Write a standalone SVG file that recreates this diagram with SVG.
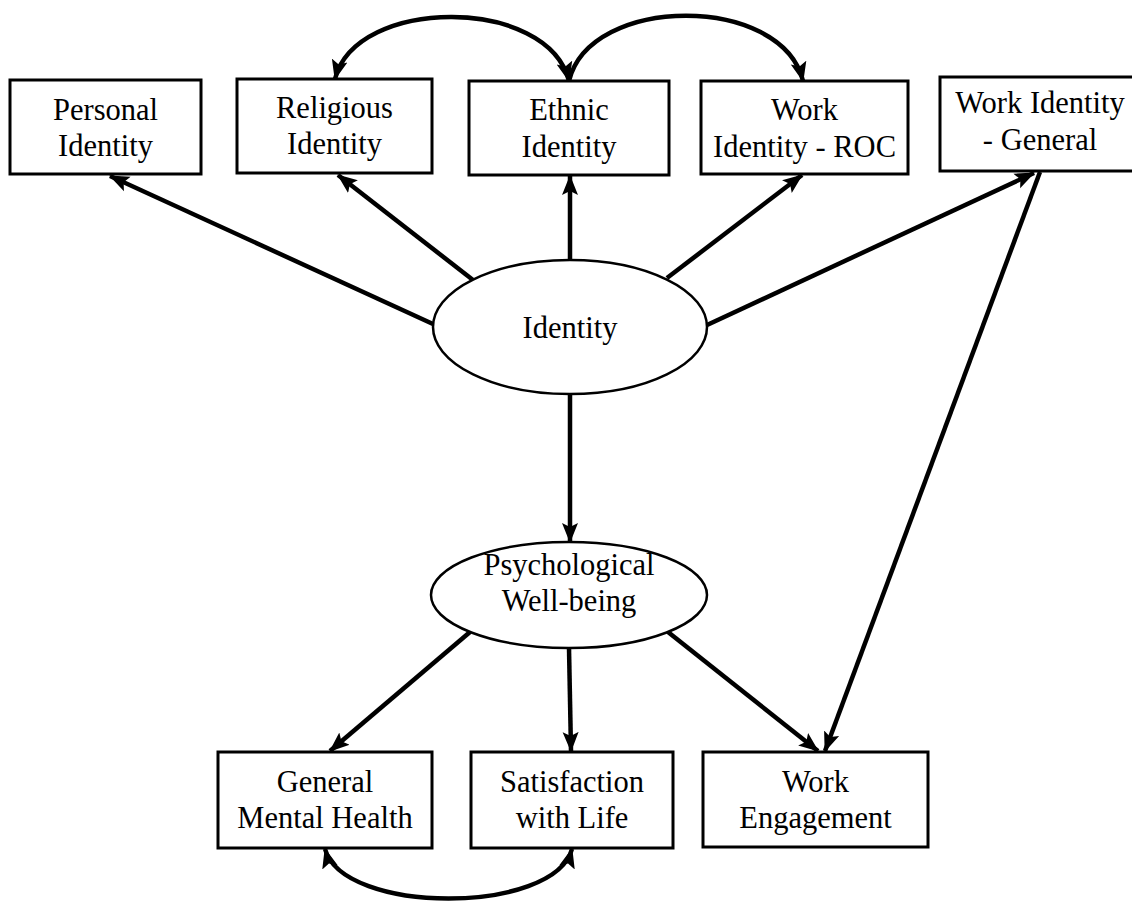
<svg xmlns="http://www.w3.org/2000/svg" width="1132" height="902" viewBox="0 0 1132 902">
<style>
.box{fill:#fff;stroke:#000;stroke-width:3}
.ell{fill:#fff;stroke:#000;stroke-width:2.5}
.t{font-family:"Liberation Serif","Times New Roman",serif;font-size:30.5px;fill:#000;text-anchor:middle}
.c{fill:none;stroke:#000;stroke-width:4.5}
</style>
<defs>
<marker id="ah" markerUnits="userSpaceOnUse" markerWidth="20" markerHeight="18" refX="19" refY="8" orient="auto-start-reverse" viewBox="0 0 20 16">
<path d="M0,0 L20,8 L0,16 L4,8 z" fill="#000"/>
</marker>
</defs>
<rect width="1132" height="902" fill="#fff"/>
<g id="connectors">
<path class="c" d="M335,79 C356,-4 548,-4 569,81" marker-start="url(#ah)" marker-end="url(#ah)"/>
<path class="c" d="M569,81 C590,-6 782,-6 803,81" marker-end="url(#ah)"/>
<path class="c" d="M325,849 C343,915 554,915 572,849" marker-start="url(#ah)" marker-end="url(#ah)"/>
<line class="c" x1="433" y1="324" x2="110" y2="176" marker-end="url(#ah)"/>
<line class="c" x1="473" y1="280" x2="338" y2="175" marker-end="url(#ah)"/>
<line class="c" x1="570" y1="260" x2="570" y2="176" marker-end="url(#ah)"/>
<line class="c" x1="667" y1="278" x2="802" y2="175" marker-end="url(#ah)"/>
<line class="c" x1="707" y1="325" x2="1034" y2="173" marker-end="url(#ah)"/>
<line class="c" x1="1040" y1="172" x2="825" y2="751" marker-end="url(#ah)"/>
<line class="c" x1="570" y1="393" x2="570" y2="542" marker-end="url(#ah)"/>
<line class="c" x1="470" y1="632" x2="330" y2="751" marker-end="url(#ah)"/>
<line class="c" x1="569" y1="648" x2="571" y2="751" marker-end="url(#ah)"/>
<line class="c" x1="668" y1="632" x2="818" y2="751" marker-end="url(#ah)"/>
</g>
<g id="personal"><rect class="box" x="10" y="80" width="191" height="94"/><text class="t" x="105.5" y="120">Personal</text><text class="t" x="105.5" y="156">Identity</text></g>
<g id="religious"><rect class="box" x="237" y="79" width="195" height="94"/><text class="t" x="334.5" y="118">Religious</text><text class="t" x="334.5" y="154">Identity</text></g>
<g id="ethnic"><rect class="box" x="469" y="81" width="200" height="94"/><text class="t" x="569" y="120">Ethnic</text><text class="t" x="569" y="157">Identity</text></g>
<g id="workroc"><rect class="box" x="701" y="81" width="207" height="93"/><text class="t" x="804.5" y="120">Work</text><text class="t" x="804.5" y="157">Identity - ROC</text></g>
<g id="workgeneral"><rect class="box" x="940" y="77" width="200" height="94"/><text class="t" x="1040" y="113">Work Identity</text><text class="t" x="1040" y="150">- General</text></g>
<g id="identity"><ellipse class="ell" cx="570" cy="327" rx="137" ry="67"/><text class="t" x="570" y="338">Identity</text></g>
<g id="psych"><ellipse class="ell" cx="569" cy="595" rx="138" ry="53"/><text class="t" x="569" y="575">Psychological</text><text class="t" x="569" y="611">Well-being</text></g>
<g id="gmh"><rect class="box" x="218" y="752" width="214" height="96"/><text class="t" x="325" y="792">General</text><text class="t" x="325" y="828">Mental Health</text></g>
<g id="swl"><rect class="box" x="471" y="752" width="202" height="96"/><text class="t" x="572" y="792">Satisfaction</text><text class="t" x="572" y="828">with Life</text></g>
<g id="we"><rect class="box" x="703" y="752" width="225" height="95"/><text class="t" x="815.5" y="792">Work</text><text class="t" x="815.5" y="828">Engagement</text></g>
</svg>
